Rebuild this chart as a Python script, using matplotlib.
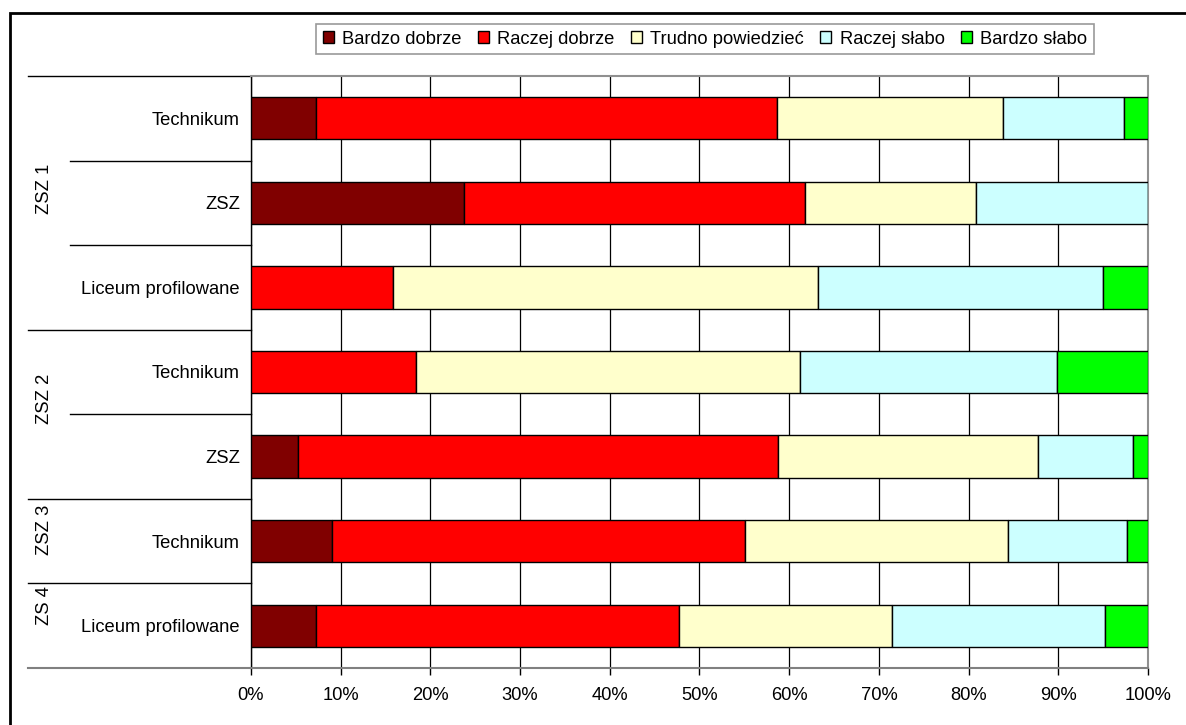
import numpy as np
import matplotlib
matplotlib.use("Agg")
import matplotlib.pyplot as plt
from matplotlib.patches import Rectangle
from matplotlib.transforms import blended_transform_factory

plt.rcParams['font.family'] = ['Liberation Sans', 'DejaVu Sans']

# --- dane ---
kategorie = ["Technikum", "ZSZ", "Liceum profilowane", "Technikum", "ZSZ",
             "Technikum", "Liceum profilowane"]
grupy = ["ZSZ 1", "ZSZ 2", "ZSZ 3", "ZS 4"]
grupy_rozmiar = [3, 2, 1, 1]
serie = ["Bardzo dobrze", "Raczej dobrze", "Trudno powiedzieć", "Raczej słabo", "Bardzo słabo"]
kolory = ["#800000", "#FF0000", "#FFFFCC", "#CCFFFF", "#00FF00"]

bardzo_dobrze = [7.2, 23.7, 0.0, 0.0, 5.2, 9.0, 7.2]
raczej_dobrze = [51.4, 38.1, 15.8, 18.4, 53.6, 46.1, 40.5]
trudno = [25.2, 19.0, 47.4, 42.8, 28.9, 29.3, 23.8]
raczej_slabo = [13.5, 19.2, 31.8, 28.7, 10.6, 13.3, 23.7]
bardzo_slabo = [2.7, 0.0, 5.0, 10.1, 1.7, 2.3, 4.8]
wartosci = [bardzo_dobrze, raczej_dobrze, trudno, raczej_slabo, bardzo_slabo]

FS = 13.2

# --- wykres ---
fig = plt.figure(figsize=(11.86, 7.25), dpi=100)
ax = fig.add_axes([251/1186, 1-668/725, 897/1186, 592/725])

y = np.arange(len(kategorie))
left = np.zeros(len(kategorie))
handles = []
for nazwa, vals, kol in zip(serie, wartosci, kolory):
    b = ax.barh(y, vals, left=left, height=0.5, color=kol, edgecolor='black',
                linewidth=1.0, label=nazwa, zorder=3)
    handles.append(b)
    left += np.array(vals)

ax.set_xlim(0, 100)
ax.set_ylim(len(kategorie) - 0.5, -0.5)
ax.set_xticks(np.arange(0, 101, 10))
ax.set_xticklabels([f"{v}%" for v in range(0, 101, 10)], fontsize=FS)
ax.tick_params(axis='x', length=5, width=1, direction='out', pad=9, colors='black')
ax.grid(axis='x', color='black', linewidth=0.9, zorder=0)
ax.set_yticks(y)
ax.set_yticklabels(kategorie, fontsize=FS)
ax.tick_params(axis='y', length=0, pad=8)

for s in ['top', 'right']:
    ax.spines[s].set_color('#909090')
    ax.spines[s].set_linewidth(1.5)
ax.spines['bottom'].set_color('#808080')
ax.spines['bottom'].set_linewidth(1.5)
ax.spines['left'].set_color('black')
ax.spines['left'].set_linewidth(1.0)

# linie podziału kategorii i etykiety grup
tr = blended_transform_factory(ax.transAxes, ax.transData)
x_long = (28 - 251) / 897
x_short = (70 - 251) / 897
x_grupa = (44 - 251) / 897
przesuniecia = [1.33, 0.82, 0.37, 0.26]
start = 0
for g, n, off in zip(grupy, grupy_rozmiar, przesuniecia):
    top = start - 0.5
    ax.plot([x_long, 0], [top, top], transform=tr, color='black', lw=1.0, clip_on=False)
    for k in range(1, n):
        yy = top + k
        ax.plot([x_short, 0], [yy, yy], transform=tr, color='black', lw=1.0, clip_on=False)
    ax.text(x_grupa, top + off, g, transform=tr, rotation=90, ha='center', va='center',
            fontsize=FS, clip_on=False)
    start += n
ax.plot([x_long, 0], [start - 0.5, start - 0.5], transform=tr, color='#808080', lw=1.5,
        clip_on=False)

leg = fig.legend(handles=handles, labels=serie, loc='center', ncol=5,
                 bbox_to_anchor=(705/1186, 1-39/725), fontsize=FS,
                 handlelength=0.6, handleheight=0.6, handletextpad=0.45,
                 columnspacing=0.9, frameon=True, fancybox=False,
                 borderpad=0.35, borderaxespad=0)
leg.get_frame().set_edgecolor('#808080')
leg.get_frame().set_linewidth(1.2)

# ramka wykresu
fig.patches.append(Rectangle((10/1186, -0.1), 1.2, 1 - 13/725 + 0.1,
                             transform=fig.transFigure, fill=False,
                             edgecolor='black', linewidth=2.0))

fig.savefig("out.png", dpi=100)
